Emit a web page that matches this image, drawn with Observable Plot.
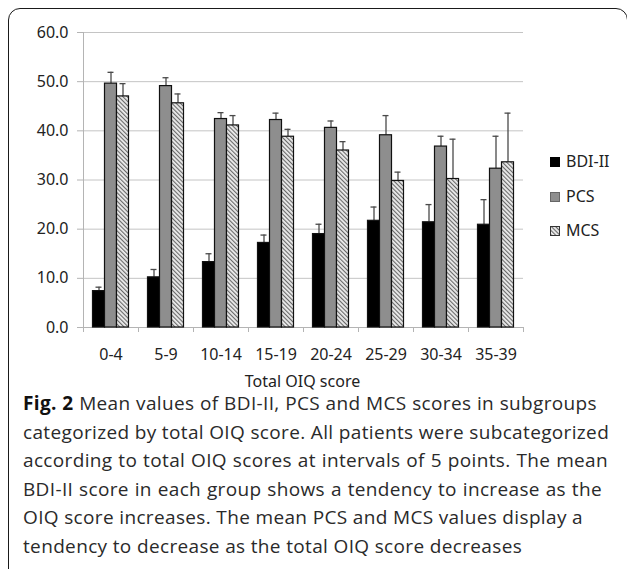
<!DOCTYPE html>
<html><head><meta charset="utf-8">
<script src="https://cdn.jsdelivr.net/npm/d3@7"></script>
<script src="https://cdn.jsdelivr.net/npm/@observablehq/plot@0.6"></script>
<style>
html,body{margin:0;padding:0;background:#fff;}
body{width:627px;height:569px;overflow:hidden;position:relative;font-family:"Noto Sans","Open Sans",sans-serif;color:#222;}
#frame{position:absolute;left:8px;top:8px;width:620px;height:600px;border:1.6px solid #1a1a1a;border-radius:12px;box-sizing:border-box;}
#chart{position:absolute;left:0;top:0;}
#xtitle{position:absolute;left:0;width:605px;top:370px;text-align:center;font-size:16px;line-height:22px;color:#222;}
#legend{position:absolute;left:550px;top:0;font-size:16px;color:#222;}
.lg{position:absolute;left:0;white-space:nowrap;height:20px;line-height:20px;}
.lg svg{position:absolute;left:0;top:6px;}
.lg span{position:absolute;left:16px;top:0;}
#caption{position:absolute;left:23px;top:389px;font-family:"Open Sans",sans-serif;font-size:19px;letter-spacing:0.35px;line-height:28.6px;color:#2a2a2a;}
#caption div{text-align:justify;text-align-last:justify;white-space:nowrap;}
#caption div.last{text-align:left;text-align-last:left;}
#caption b{color:#111;}
</style>
</head><body>
<div id="frame"></div>
<div id="chart"></div>
<div id="xtitle"></div>
<div id="legend"></div>
<div id="caption"></div>
<script>
const categories = ["0-4","5-9","10-14","15-19","20-24","25-29","30-34","35-39"];
const seriesNames = ["BDI-II","PCS","MCS"];
const bdiMean = [7.4,10.2,13.3,17.2,19.0,21.7,21.4,20.9];
const bdiSD   = [0.8,1.6,1.7,1.6,2.0,2.8,3.6,5.1];
const pcsMean = [49.6,49.1,42.4,42.2,40.6,39.1,36.8,32.3];
const pcsSD   = [2.3,1.7,1.3,1.4,1.4,4.0,2.1,6.6];
const mcsMean = [47.0,45.6,41.1,38.8,36.0,29.8,30.2,33.6];
const mcsSD   = [2.6,1.9,2.0,1.5,1.8,1.8,8.1,10.0];
const yTicks  = [0,10,20,30,40,50,60];
const xTitle  = "Total OIQ score";
const captionLines = [
  "<b>Fig. 2</b> Mean values of BDI-II, PCS and MCS scores in subgroups",
  "categorized by total OIQ score. All patients were subcategorized",
  "according to total OIQ scores at intervals of 5 points. The mean",
  "BDI-II score in each group shows a tendency to increase as the",
  "OIQ score increases. The mean PCS and MCS values display a",
  "tendency to decrease as the total OIQ score decreases"
];
const captionWidths = [574, 585, 585, 579, 559, null];

const means = [bdiMean, pcsMean, mcsMean];
const sds = [bdiSD, pcsSD, mcsSD];
const fills = ["#000000", "#8e8e8e", "url(#hatch)"];

const W = 627, H = 400;
const mL = 83, mR = 104, mT = 32, mB = 73;
const bw = (W - mL - mR) / categories.length;   // band width
const barW = 12, capW = 6;
const groupStart = (bw - 3 * barW) / 2;

const rows = [];
seriesNames.forEach((s, k) => categories.forEach((c, i) => rows.push({cat: c, series: s, k, mean: means[k][i], top: means[k][i] + sds[k][i]})));

const marks = [
  Plot.gridY(yTicks, {stroke: "#c4c4c4", strokeOpacity: 1}),
  Plot.axisY(yTicks, {tickSize: 6, tickPadding: 9, tickFormat: d3.format(".1f"), stroke: "#b4b4b4", fill: "#222", label: null}),
  Plot.axisX({tickSize: 0, tickPadding: 21, label: null, fill: "#222"}),
  Plot.ruleY([0], {stroke: "#b4b4b4"}),
  Plot.ruleX([categories[0]], {x: d => d, dx: -bw / 2, stroke: "#b4b4b4"}),
  Plot.ruleX(categories, {x: d => d, y1: 0, y2: 0, insetBottom: -5, dx: -bw / 2, stroke: "#b4b4b4"}),
  Plot.ruleX([categories[categories.length - 1]], {x: d => d, y1: 0, y2: 0, insetBottom: -5, dx: bw / 2, stroke: "#b4b4b4"})
];
seriesNames.forEach((s, k) => {
  const d = rows.filter(r => r.k === k);
  const left = groupStart + k * barW;
  const center = left + barW / 2;
  marks.push(Plot.ruleX(d, {x: "cat", y1: "mean", y2: "top", dx: center - bw / 2, stroke: "#4a4a4a", strokeWidth: 1.3}));
  marks.push(Plot.tickY(d, {x: "cat", y: "top", insetLeft: center - capW / 2, insetRight: bw - center - capW / 2, stroke: "#4a4a4a", strokeWidth: 1.3}));
  marks.push(Plot.barY(d, {x: "cat", y: "mean", insetLeft: left, insetRight: bw - left - barW, fill: fills[k], stroke: "#111", strokeWidth: 1.2}));
});

const chart = Plot.plot({
  width: W, height: H,
  marginLeft: mL, marginRight: mR, marginTop: mT, marginBottom: mB,
  style: {fontFamily: "'Noto Sans', sans-serif", fontSize: "16px", color: "#222", background: "transparent"},
  x: {type: "band", domain: categories, padding: 0, axis: null},
  y: {domain: [0, 60], axis: null},
  marks
});
const defs = `<defs><pattern id="hatch" patternUnits="userSpaceOnUse" width="3" height="3" patternTransform="rotate(-45)"><rect width="3" height="3" fill="#ececec"/><line x1="0.6" y1="0" x2="0.6" y2="3" stroke="#5a5a5a" stroke-width="1"/></pattern></defs>`;
d3.select(chart).insert("g", ":first-child").html(defs);
document.getElementById("chart").appendChild(chart);

document.getElementById("xtitle").textContent = xTitle;

const legendY = [161, 196, 230];
const lg = document.getElementById("legend");
seriesNames.forEach((s, k) => {
  const row = document.createElement("div");
  row.className = "lg";
  row.style.top = (legendY[k] - 10) + "px";
  const sw = k === 2
    ? `<svg width="10" height="10"><defs><pattern id="hatchL" patternUnits="userSpaceOnUse" width="3" height="3" patternTransform="rotate(-45)"><rect width="3" height="3" fill="#ececec"/><line x1="0.6" y1="0" x2="0.6" y2="3" stroke="#5a5a5a" stroke-width="1"/></pattern></defs><rect x="0.5" y="0.5" width="9" height="9" fill="url(#hatchL)" stroke="#333"/></svg>`
    : `<svg width="10" height="10"><rect x="0.5" y="0.5" width="9" height="9" fill="${fills[k]}" stroke="${k === 0 ? '#000' : '#666'}"/></svg>`;
  row.innerHTML = sw + `<span>${s}</span>`;
  lg.appendChild(row);
});

const cap = document.getElementById("caption");
captionLines.forEach((t, i) => {
  const d = document.createElement("div");
  d.innerHTML = t;
  if (captionWidths[i]) d.style.width = captionWidths[i] + "px"; else d.className = "last";
  cap.appendChild(d);
});
</script>
</body></html>
